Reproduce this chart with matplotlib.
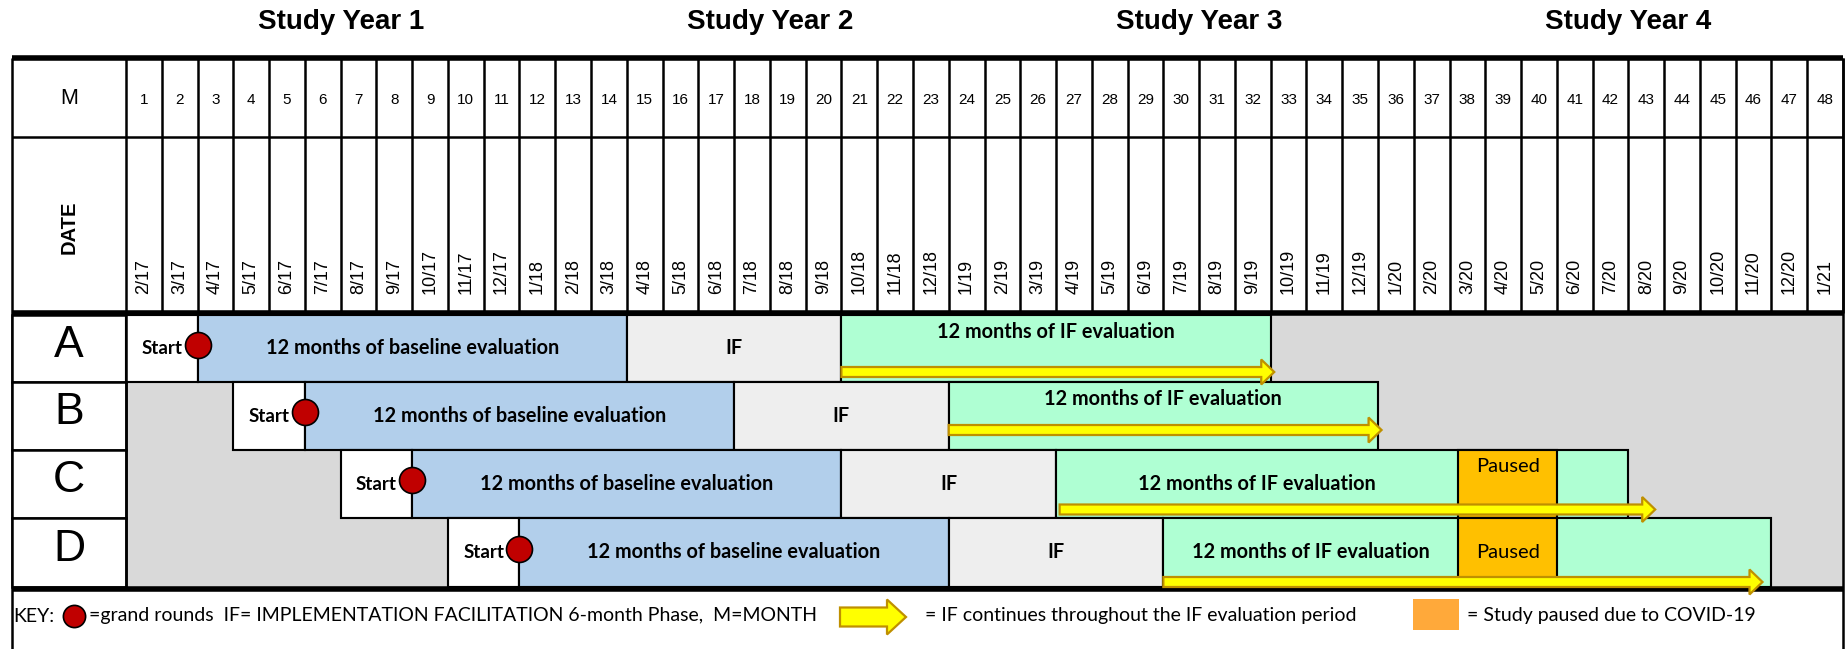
import matplotlib
matplotlib.use('Agg')
import matplotlib.pyplot as plt
from matplotlib.patches import Rectangle, FancyArrow
from matplotlib import font_manager as fm

# ---------------- data ----------------
years = ['Study Year 1', 'Study Year 2', 'Study Year 3', 'Study Year 4']
months = list(range(1, 49))
dates = ['2/17', '3/17', '4/17', '5/17', '6/17', '7/17', '8/17', '9/17', '10/17', '11/17', '12/17',
         '1/18', '2/18', '3/18', '4/18', '5/18', '6/18', '7/18', '8/18', '9/18', '10/18', '11/18', '12/18',
         '1/19', '2/19', '3/19', '4/19', '5/19', '6/19', '7/19', '8/19', '9/19', '10/19', '11/19', '12/19',
         '1/20', '2/20', '3/20', '4/20', '5/20', '6/20', '7/20', '8/20', '9/20', '10/20', '11/20', '12/20',
         '1/21']
sites = ['A', 'B', 'C', 'D']
start_month = [1, 4, 7, 10]          # first month of the 2-month start window
start_len = [2, 2, 2, 2]
baseline_len = [12, 12, 12, 12]
if_len = [6, 6, 6, 6]
eval_last_month = [32, 35, 42, 46]   # last month of the IF evaluation block
pause_begin = [None, None, 37.25, 37.25]   # months elapsed when pause starts
pause_last_month = [None, None, 40, 40]
arrow_begin = [20, 23, 26.1, 29.0]   # months elapsed
arrow_end = [32.1, 35.1, 42.75, 45.75]

baseline_label = '12 months of baseline evaluation'
if_label = 'IF'
eval_label = '12 months of IF evaluation'
paused_label = 'Paused'
key_texts = ['KEY:',
             '=grand rounds  IF= IMPLEMENTATION FACILITATION 6-month Phase,  M=MONTH',
             '= IF continues throughout the IF evaluation period',
             '= Study paused due to COVID-19']

# ---------------- styles / layout ----------------
C_BASE = '#B2CFEB'
C_IF = '#EEEEEE'
C_EVAL = '#AFFFD3'
C_BG = '#D9D9D9'
C_PAUSE = '#FFC000'
C_KEYPAUSE = '#FFA93A'
C_RED = '#C00000'
C_ARROW = '#FFFF00'
C_ARROW_EDGE = '#BF9000'

names = {f.name for f in fm.fontManager.ttflist}
HAS_NARROW = 'Liberation Sans Narrow' in names
NARROW = 'Liberation Sans Narrow' if HAS_NARROW else 'Liberation Sans'
SANS = 'Liberation Sans'
CAL = 'Lato' if 'Lato' in names else 'DejaVu Sans'
if HAS_NARROW:
    FS_MONTH, FS_DATE, FS_M, FS_DATELBL = 12.5, 15, 17, 16.5
else:
    FS_MONTH, FS_DATE, FS_M, FS_DATELBL = 11, 13, 15.5, 14.5

W, H = 1849, 649
COL0_PX = 126.0
COLW_PX = (1843.0 - 126.0) / 48.0


def px(xp):
    return (xp - COL0_PX) / COLW_PX


LEFT = px(12)
Y_TITLE = 22
Y_TOP = 57.5
Y_MDIV = 137
Y_HEAD_BOT = 312.5
ROW_TOP = [315, 382, 450, 518]
ROW_BOT = [382, 450, 518, 587]
Y_ROWS_BOT = 588.5
Y_KEY = 616
EVAL_TOP_LABEL = [True, True, False, False]
PAUSE_TOP_LABEL = [None, None, True, False]
ARROW_Y = [372, 430, 509.5, 582]

LW = 1.8
LW_THICK = 4.0
FS_BAR = 14.3

fig = plt.figure(figsize=(W / 100, H / 100), dpi=100)
ax = fig.add_axes([0, 0, 1, 1])
ax.set_xlim(px(0), px(W))
ax.set_ylim(H, 0)
ax.axis('off')

# titles
for i, t in enumerate(years):
    ax.text(i * 12 + 6, Y_TITLE, t, ha='center', va='center', fontsize=20,
            fontweight='bold', family=SANS)

# header grid
ax.vlines(range(0, 49), Y_TOP, Y_HEAD_BOT, color='black', lw=LW)
ax.vlines([LEFT], Y_TOP, H, color='black', lw=LW)
ax.vlines([48], Y_TOP, H, color='black', lw=LW)
ax.hlines([Y_MDIV], LEFT, 48, color='black', lw=LW)

for m in months:
    ax.text(m - 0.5, 100, str(m), ha='center', va='center', fontsize=FS_MONTH, family=NARROW)
    ax.text(m - 0.5, 294, dates[m - 1], ha='center', va='bottom', rotation=90,
            fontsize=FS_DATE, family=NARROW)
ax.text(LEFT / 2, 99, 'M', ha='center', va='center', fontsize=FS_M, family=NARROW)
ax.text(LEFT / 2, 227, 'DATE', ha='center', va='center', rotation=90, fontsize=FS_DATELBL,
        fontweight='bold', family=NARROW)

# gray background of site rows
ax.add_patch(Rectangle((0, ROW_TOP[0]), 48, ROW_BOT[-1] - ROW_TOP[0], fc=C_BG, ec='none', zorder=1))


def cell(x0, x1, r, fc):
    ax.add_patch(Rectangle((x0, ROW_TOP[r]), x1 - x0, ROW_BOT[r] - ROW_TOP[r], fc=fc,
                           ec='black', lw=LW * 0.85, zorder=2))


for r, s in enumerate(sites):
    top, bot = ROW_TOP[r], ROW_BOT[r]
    yc = (top + bot) / 2
    # site label cell
    ax.add_patch(Rectangle((LEFT, top), -LEFT, bot - top, fc='white', ec='black', lw=LW, zorder=2))
    ax.text(LEFT / 2, yc - 3, s, ha='center', va='center', fontsize=32, family=SANS, zorder=3)

    x_s = start_month[r] - 1
    x_b = x_s + start_len[r]
    x_i = x_b + baseline_len[r]
    x_e = x_i + if_len[r]
    x_end = eval_last_month[r]
    cell(x_s, x_b, r, 'white')
    cell(x_b, x_i, r, C_BASE)
    cell(x_i, x_e, r, C_IF)
    cell(x_e, x_end, r, C_EVAL)

    ax.text(x_b - 0.43, yc, 'Start', ha='right', va='center', fontsize=13.5, fontweight='bold',
            family=CAL, zorder=4)
    ax.plot([x_b], [yc - 4], 'o', ms=18.7, mfc=C_RED, mec='black', mew=1.2, zorder=7)
    ax.text((x_b + x_i) / 2, yc, baseline_label, ha='center', va='center', fontsize=FS_BAR,
            fontweight='bold', family=CAL, zorder=4)
    ax.text((x_i + x_e) / 2, yc, if_label, ha='center', va='center', fontsize=FS_BAR,
            fontweight='bold', family=CAL, zorder=4)

    if pause_begin[r] is not None:
        cell(pause_begin[r], pause_last_month[r], r, C_PAUSE)
        ev_center = (x_e + pause_begin[r]) / 2
        py = top + 17 if PAUSE_TOP_LABEL[r] else yc
        ax.text((pause_begin[r] + pause_last_month[r]) / 2, py, paused_label, ha='center',
                va='center', fontsize=14.5, family=CAL, zorder=4)
    else:
        ev_center = (x_e + x_end) / 2
    ey = top + 17 if EVAL_TOP_LABEL[r] else yc
    ax.text(ev_center, ey, eval_label, ha='center', va='center', fontsize=FS_BAR,
            fontweight='bold', family=CAL, zorder=4)

# row borders & thick lines
ax.vlines([0], ROW_TOP[0], ROW_BOT[-1], color='black', lw=LW, zorder=5)
ax.hlines([Y_TOP, Y_HEAD_BOT, Y_ROWS_BOT], LEFT, 48, color='black', lw=LW_THICK, zorder=5)


def arrow(x0, x1, y, shaft, head, head_len_px):
    ax.add_patch(FancyArrow(x0, y, x1 - x0, 0, width=shaft, head_width=head,
                            head_length=head_len_px / COLW_PX, length_includes_head=True,
                            fc=C_ARROW, ec=C_ARROW_EDGE, lw=1.6, zorder=8))


for r in range(len(sites)):
    arrow(arrow_begin[r], arrow_end[r], ARROW_Y[r], 10, 25, 13)

# key row
FS_KEY = 14.0
ax.text(px(13), Y_KEY, key_texts[0], ha='left', va='center', fontsize=FS_KEY, family=CAL)
ax.plot([px(74)], [Y_KEY], 'o', ms=16, mfc=C_RED, mec='black', mew=1.2, zorder=7)
ax.text(px(89), Y_KEY, key_texts[1], ha='left', va='center', fontsize=FS_KEY, family=CAL)
arrow(px(840), px(906), Y_KEY + 1, 19, 35, 19)
ax.text(px(925), Y_KEY, key_texts[2], ha='left', va='center', fontsize=FS_KEY, family=CAL)
ax.add_patch(Rectangle((px(1413), 599), px(1459) - px(1413), 31, fc=C_KEYPAUSE, ec='none'))
ax.text(px(1467), Y_KEY, key_texts[3], ha='left', va='center', fontsize=FS_KEY, family=CAL)

fig.savefig('out.png', dpi=100)
